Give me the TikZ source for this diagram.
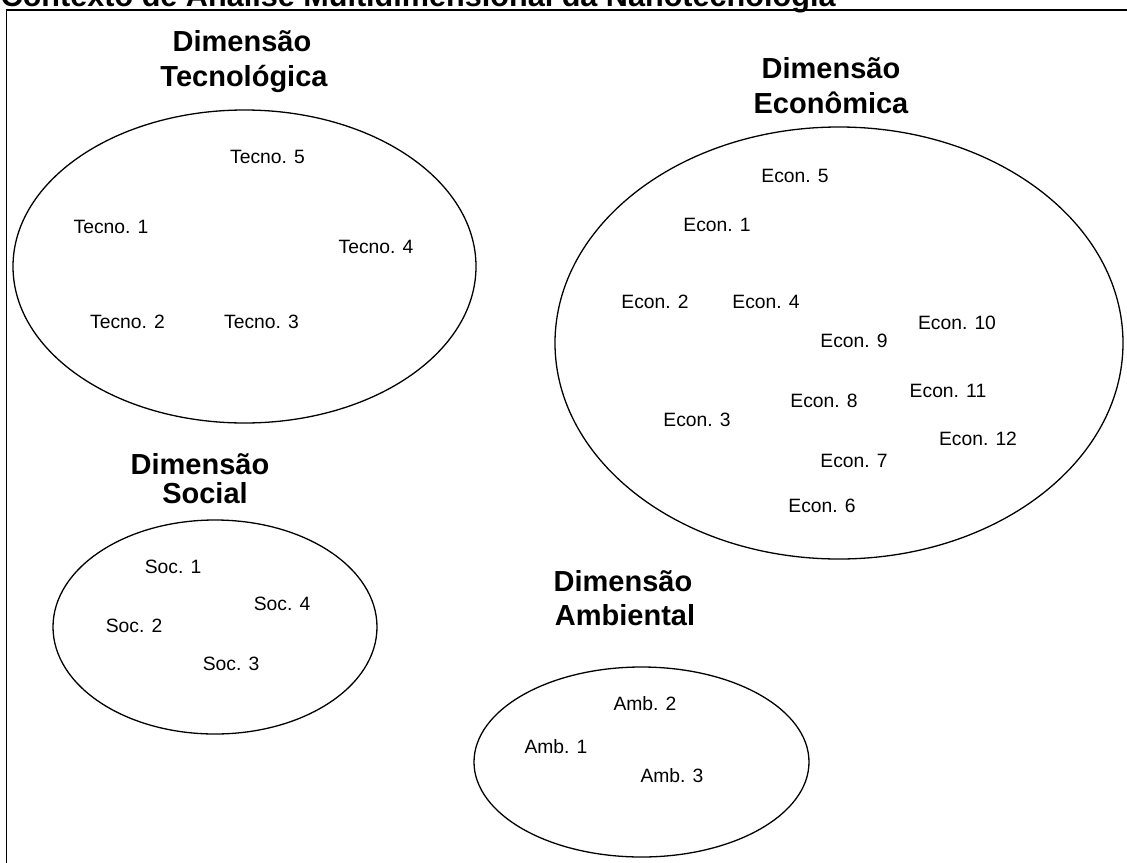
\documentclass[tikz,border=0pt]{standalone}
\usepackage{fontspec}
\setmainfont{Liberation Sans}
\usetikzlibrary{shapes.geometric}
\tikzset{
  dimring/.style={draw=black, line width=1.3pt, ellipse, inner sep=0pt},
  item/.style={inner sep=0pt, font=\fontsize{19.3}{23}\selectfont},
  dimtitle/.style={inner sep=0pt, anchor=base, font=\fontsize{29}{34}\selectfont\bfseries},
  frameline/.style={draw=black, line width=1.6pt}
}
\begin{document}
\begin{tikzpicture}[x=1pt,y=-1pt]
\useasboundingbox (0,0) rectangle (1127,862);
\clip (0,0) rectangle (1127,862);
\fill[white] (0,0) rectangle (1127,862);
% frame
\coordinate (fbl) at (6.5,870);
\coordinate (ftl) at (6.5,10);
\coordinate (ftr) at (1135,10);
\draw[frameline] (fbl) -- (ftl) -- (ftr);
\node[inner sep=0pt, anchor=base west, font=\fontsize{30.6}{34}\selectfont\bfseries] (maintitle) at (0.5,6) {Contexto de Análise Multidimensional da Nanotecnologia};
% ellipses
\node[dimring, minimum width=463pt, minimum height=313pt] (ellT) at (244.5,266.5) {};
\node[dimring, minimum width=568pt, minimum height=432pt] (ellE) at (839,343) {};
\node[dimring, minimum width=324pt, minimum height=214pt] (ellS) at (215,627) {};
\node[dimring, minimum width=335pt, minimum height=190pt] (ellA) at (641.5,762) {};
% titles
\node[dimtitle] (tT1) at (242,51) {Dimensão};
\node[dimtitle] (tT2) at (244,86) {Tecnológica};
\node[dimtitle] (tE1) at (831,78) {Dimensão};
\node[dimtitle] (tE2) at (831,113) {Econômica};
\node[dimtitle] (tS1) at (200,474) {Dimensão};
\node[dimtitle] (tS2) at (205,503) {Social};
\node[dimtitle] (tA1) at (623,591) {Dimensão};
\node[dimtitle] (tA2) at (625,625) {Ambiental};
% Tecno
\node[item] (te5) at (267.5,157) {Tecno. 5};
\node[item] (te1) at (111,227) {Tecno. 1};
\node[item] (te4) at (376,247) {Tecno. 4};
\node[item] (te2) at (127.5,322) {Tecno. 2};
\node[item] (te3) at (261.5,322) {Tecno. 3};
% Econ
\node[item] (ec5) at (795,176) {Econ. 5};
\node[item] (ec1) at (717,225) {Econ. 1};
\node[item] (ec2) at (655,302) {Econ. 2};
\node[item] (ec4) at (766,302) {Econ. 4};
\node[item] (ec10) at (957,323) {Econ. 10};
\node[item] (ec9) at (854,341) {Econ. 9};
\node[item] (ec11) at (948,391) {Econ. 11};
\node[item] (ec8) at (824,401) {Econ. 8};
\node[item] (ec3) at (697,420) {Econ. 3};
\node[item] (ec12) at (978,439) {Econ. 12};
\node[item] (ec7) at (854,461) {Econ. 7};
\node[item] (ec6) at (822,506) {Econ. 6};
% Social
\node[item] (so1) at (173,567) {Soc. 1};
\node[item] (so4) at (282,604) {Soc. 4};
\node[item] (so2) at (134,626) {Soc. 2};
\node[item] (so3) at (231,664) {Soc. 3};
% Ambiental
\node[item] (am2) at (645,704) {Amb. 2};
\node[item] (am1) at (556,747) {Amb. 1};
\node[item] (am3) at (672,776) {Amb. 3};
\end{tikzpicture}
\end{document}
